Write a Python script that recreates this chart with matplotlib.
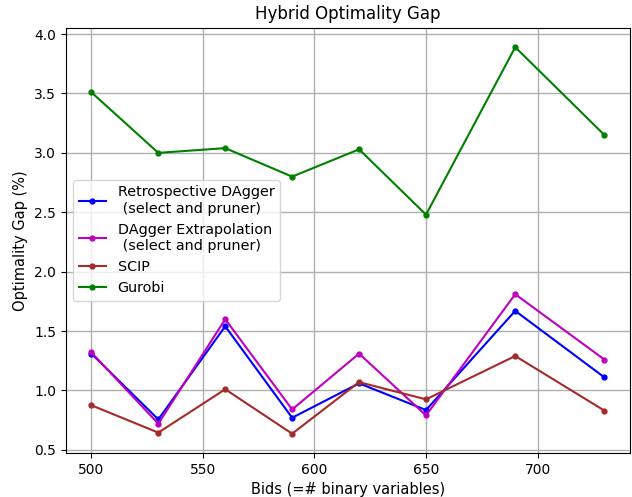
import numpy as np
from matplotlib import pyplot as plt

bids = [500, 530, 560, 590, 620, 650, 690, 730]
retro_dagger = [1.31, 0.756, 1.54, 0.77, 1.06, 0.835, 1.67, 1.11]
dagger_extrap = [1.32, 0.72, 1.60, 0.84, 1.31, 0.79, 1.81, 1.26]
scip = [0.875, 0.645, 1.01, 0.636, 1.07, 0.925, 1.29, 0.83]
gurobi = [3.51, 3.0, 3.04, 2.80, 3.03, 2.48, 3.89, 3.15]

fig = plt.figure(figsize=(6.32, 4.97), dpi=100)
ax = fig.add_axes([0.104, 0.0885, 0.893, 0.8555])

ax.plot(bids, retro_dagger, color='b', marker='.', markersize=7, lw=1.5,
        label='Retrospective DAgger\n (select and pruner)')
ax.plot(bids, dagger_extrap, color='m', marker='.', markersize=7, lw=1.5,
        label='DAgger Extrapolation\n (select and pruner)')
ax.plot(bids, scip, color='brown', marker='.', markersize=7, lw=1.5, label='SCIP')
ax.plot(bids, gurobi, color='g', marker='.', markersize=7, lw=1.5, label='Gurobi')

ax.grid(True, color='#b0b0b0', lw=1)
ax.set_title('Hybrid Optimality Gap', fontsize=12)
ax.set_xlabel('Bids (=# binary variables)', fontsize=10.5)
ax.set_ylabel('Optimality Gap (%)', fontsize=10.5)
ax.legend(loc='center left', fontsize=10.4, handlelength=1.9)

fig.savefig('out.png', dpi=100)
